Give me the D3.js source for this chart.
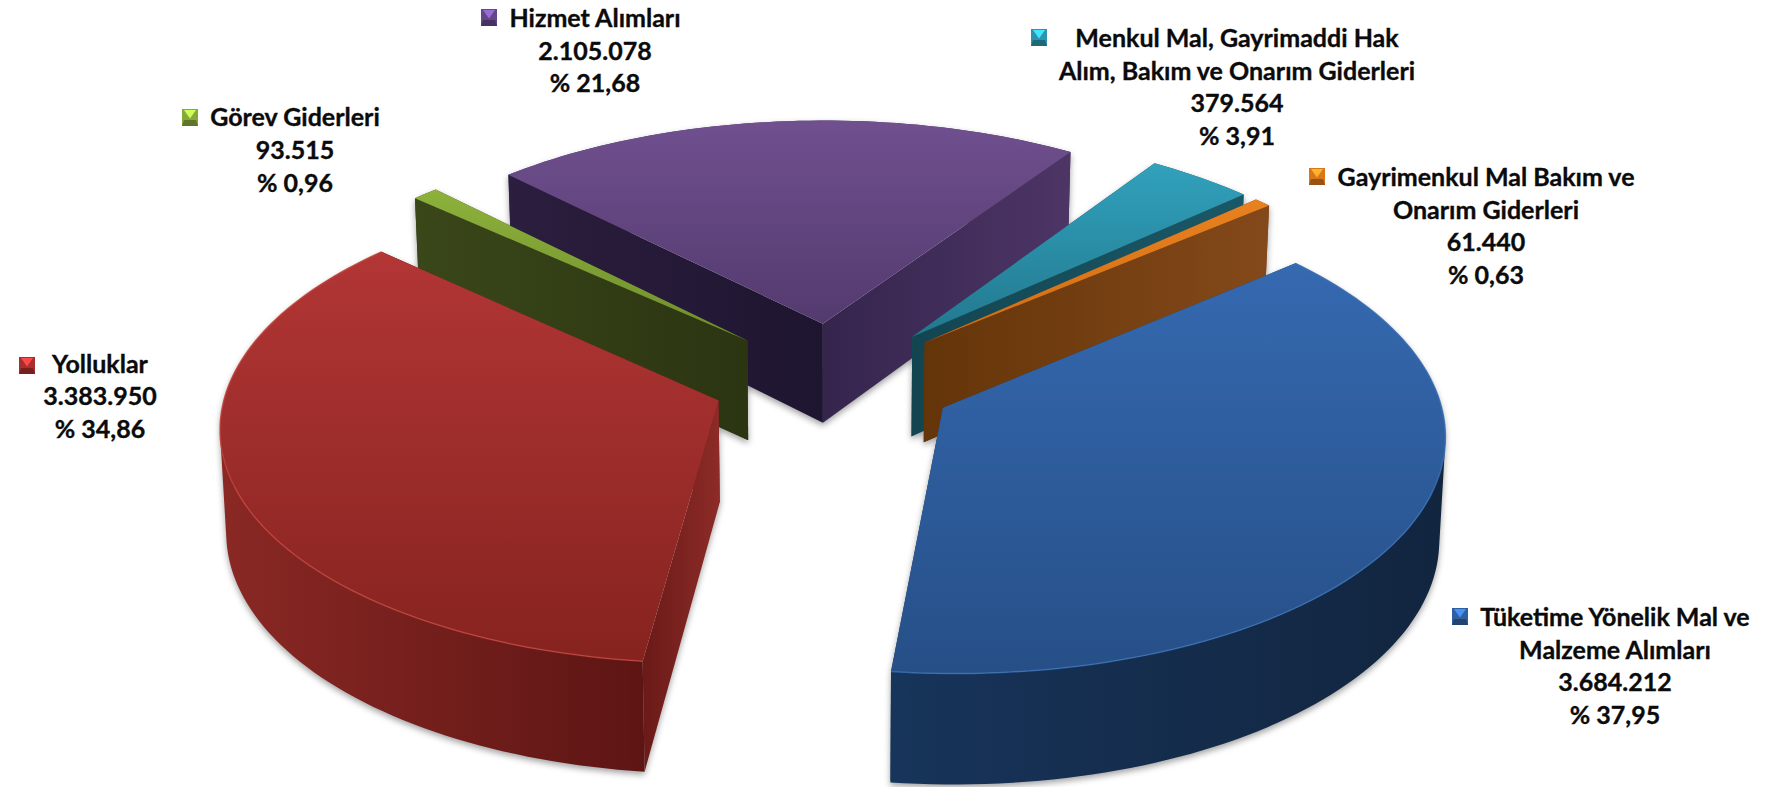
<!DOCTYPE html>
<html>
<head>
<meta charset="utf-8">
<script src="https://cdn.jsdelivr.net/npm/d3@7"></script>
<style>
  html, body { margin: 0; padding: 0; background: #fff; overflow: hidden; }
  text { font-family: Lato, Carlito, sans-serif; font-weight: 700; fill: #0b0b0b; stroke: #0b0b0b; stroke-width: 0.35px; }
</style>
</head>
<body>
<div id="chart"></div>
<script>
const categories = [
    "Tüketime Yönelik Mal ve Malzeme Alımları",
    "Yolluklar",
    "Görev Giderleri",
    "Hizmet Alımları",
    "Menkul Mal, Gayrimaddi Hak Alım, Bakım ve Onarım Giderleri",
    "Gayrimenkul Mal Bakım ve Onarım Giderleri"
];
const values = [3684212, 3383950, 93515, 2105078, 379564, 61440];
const valueLabels = ["3.684.212", "3.383.950", "93.515", "2.105.078", "379.564", "61.440"];
const percentLabels = ["% 37,95", "% 34,86", "% 0,96", "% 21,68", "% 3,91", "% 0,63"];
const nameLines = [
    ["Tüketime Yönelik Mal ve", "Malzeme Alımları"],
    ["Yolluklar"],
    ["Görev Giderleri"],
    ["Hizmet Alımları"],
    ["Menkul Mal, Gayrimaddi Hak", "Alım, Bakım ve Onarım Giderleri"],
    ["Gayrimenkul Mal Bakım ve", "Onarım Giderleri"]
];

const w = 1767;
const h = 787;

// slice styling, same order as the data
const topColors = [["#3569b0", "#264f87"], ["#b23635", "#86231f"], ["#8db13c", "#6f8d2c"],
    ["#70508f", "#533a6e"], ["#31a1bc", "#22788e"], ["#e9811f", "#d06d14"]];
const startWall = [["#17345a", "#17345a"], ["#6a1a18", "#8c2b27"], ["#3a4719", "#2b3512"],
    ["#2c1e3e", "#1e1530"], ["#17505f", "#17505f"], ["#643509", "#643509"]];
const endWall = [["#17345a", "#17345a"], ["#6a1a18", "#6a1a18"], ["#3a4719", "#3a4719"],
    ["#35254d", "#4d3566"], ["#134551", "#1b5867"], ["#643509", "#84491a"]];
const outerWall = [["#17345a", "#12253f"], ["#8a2824", "#551211"], ["#3a4719", "#3a4719"],
    ["#4d3566", "#4d3566"], ["#1b5867", "#1b5867"], ["#84491a", "#84491a"]];
const rimColors = ["#3b70b5", "#c2433c", "none", "none", "none", "none"];
const keyColors = ["#2f5f9f", "#a92f2e", "#86a93a", "#64468a", "#2b95ae", "#d9761c"];
const radiusFactor = [1, 0.995, 1, 1, 1, 1];

// label anchors: centre of the text column, first line centre, line gap, key box
const labelLayout = [
    { x: 1615, y: 617, gap: 32.8, keyX: 1452, keyY: 608 },
    { x: 100, y: 364, gap: 32.6, keyX: 19, keyY: 357 },
    { x: 295, y: 117, gap: 33, keyX: 182, keyY: 109 },
    { x: 595, y: 18, gap: 32.8, keyX: 481, keyY: 9 },
    { x: 1237, y: 38, gap: 32.8, keyX: 1031, keyY: 29 },
    { x: 1486, y: 177, gap: 32.8, keyX: 1309, keyY: 168 }
];

// pie geometry and the camera that lays it down
const cx = 834, cy = 380;
const radius = 493;
const squash = 0.474;
const persp = 0.0987;
const explode = 0.248;
const depth = 101;
const rotation = 50 * Math.PI / 180;

const pie = d3.pie().sort(null).startAngle(rotation).endAngle(rotation + 2 * Math.PI);
const arcs = pie(values);

function top3d(X, Y) {
    const k = 1 / (1 - persp * Y);
    return { x: cx + radius * X * k, y: cy + radius * squash * Y * k, k: k };
}
function bottom3d(p) {
    return { x: cx + (p.x - cx) * 0.99, y: p.y + depth * Math.pow(p.k, 0.8) };
}

const line = d3.line().x(d => d.x).y(d => d.y);

const svg = d3.select("#chart").append("svg")
    .attr("width", w)
    .attr("height", h)
    .style("display", "block");
const defs = svg.append("defs");

const blur = defs.append("filter").attr("id", "soft")
    .attr("x", "-5%").attr("y", "-5%").attr("width", "110%").attr("height", "110%");
blur.append("feGaussianBlur").attr("stdDeviation", 3);

let gradId = 0;
function gradient(colors, x1, y1, x2, y2) {
    const id = "g" + (gradId++);
    const g = defs.append("linearGradient").attr("id", id)
        .attr("gradientUnits", "userSpaceOnUse")
        .attr("x1", x1).attr("y1", y1).attr("x2", x2).attr("y2", y2);
    g.append("stop").attr("offset", 0).attr("stop-color", colors[0]);
    g.append("stop").attr("offset", 1).attr("stop-color", colors[1]);
    return "url(#" + id + ")";
}

// build the projected outline of every slice
const slices = arcs.map((a, i) => {
    const mid = (a.startAngle + a.endAngle) / 2;
    const ox = explode * Math.sin(mid);
    const oy = -explode * Math.cos(mid);
    const r = radiusFactor[i];
    const apex = top3d(ox, oy);
    const n = Math.max(4, Math.ceil((a.endAngle - a.startAngle) * 40));
    const rim = d3.range(n + 1).map(j => {
        const t = a.startAngle + (a.endAngle - a.startAngle) * j / n;
        return top3d(ox + r * Math.sin(t), oy - r * Math.cos(t));
    });
    return { i, apex, rim };
});

const shadowLayer = svg.append("g").attr("filter", "url(#soft)").attr("opacity", 0.55)
    .attr("transform", "translate(0,3)");
const chart = svg.append("g");

// one path made of same-wound quads, so the curved wall has no seams
function sweptPath(rim, rimB) {
    return d3.pairs(d3.range(rim.length)).map(([a, b]) => {
        const quad = [rim[a], rim[b], rimB[b], rimB[a]];
        const area = d3.polygonArea(quad.map(p => [p.x, p.y]));
        return line(area < 0 ? quad.reverse() : quad) + "Z";
    }).join("");
}

// back to front
const drawOrder = [3, 2, 4, 5, 1, 0];

drawOrder.forEach(i => {
    const s = slices[i];
    const apexB = bottom3d(s.apex);
    const rimB = s.rim.map(bottom3d);
    const first = s.rim[0], last = s.rim[s.rim.length - 1];

    const wallA = [s.apex, first, rimB[0], apexB];
    const wallB = [s.apex, last, rimB[rimB.length - 1], apexB];
    const topFace = [s.apex].concat(s.rim);
    const outerPath = sweptPath(s.rim, rimB);

    shadowLayer.append("path").attr("d", outerPath).attr("fill", "#555");
    [wallA, wallB].forEach(poly => {
        shadowLayer.append("path").attr("d", line(poly) + "Z").attr("fill", "#555");
    });

    const xs = s.rim.map(d => d.x).concat(s.apex.x);
    const ys = s.rim.map(d => d.y).concat(s.apex.y);
    const g = chart.append("g");

    g.append("path").attr("d", outerPath)
        .attr("fill", gradient(outerWall[i], d3.min(xs), 0, d3.max(xs), 0));

    // the wall running towards the viewer goes on last, the other one is hidden behind it
    const walls = [
        { poly: wallA, colors: startWall[i], end: first },
        { poly: wallB, colors: endWall[i], end: last }
    ].sort((a, b) => a.end.y - b.end.y);
    walls.forEach(wall => {
        g.append("path").attr("d", line(wall.poly) + "Z")
            .attr("fill", gradient(wall.colors, Math.min(s.apex.x, wall.end.x), 0, Math.max(s.apex.x, wall.end.x), 0));
    });

    g.append("path").attr("d", line(topFace) + "Z")
        .attr("fill", gradient(topColors[i], 0, d3.min(ys), 0, d3.max(ys)));

    if (rimColors[i] !== "none") {
        g.append("path").attr("d", line(s.rim))
            .attr("fill", "none")
            .attr("stroke", rimColors[i])
            .attr("stroke-width", 1.5)
            .attr("opacity", 0.8);
    }
});

// labels
const fontSize = 25;
const labels = svg.append("g");

labelLayout.forEach((l, i) => {
    const rows = nameLines[i].concat([valueLabels[i], percentLabels[i]]);
    const g = labels.append("g").attr("class", "label");
    g.selectAll("text").data(rows).enter().append("text")
        .attr("x", l.x)
        .attr("y", (d, j) => l.y + j * l.gap)
        .attr("dy", "0.35em")
        .attr("text-anchor", "middle")
        .style("font-size", fontSize + "px")
        .text(d => d);

    // bevelled legend key
    const s = 16, t = 17;
    const base = d3.color(keyColors[i]);
    const key = labels.append("g").attr("transform", "translate(" + l.keyX + "," + l.keyY + ")");
    key.append("rect").attr("width", s).attr("height", t).attr("fill", base);
    key.append("path").attr("d", line([{x:0,y:t},{x:2,y:t-6},{x:s-2,y:t-6},{x:s,y:t}]) + "Z")
        .attr("fill", base.darker(1));
    key.append("path").attr("d", line([{x:2,y:1},{x:s-2,y:1},{x:s/2,y:t/2+1}]) + "Z")
        .attr("fill", base.brighter(1.2));
});
</script>
</body>
</html>
